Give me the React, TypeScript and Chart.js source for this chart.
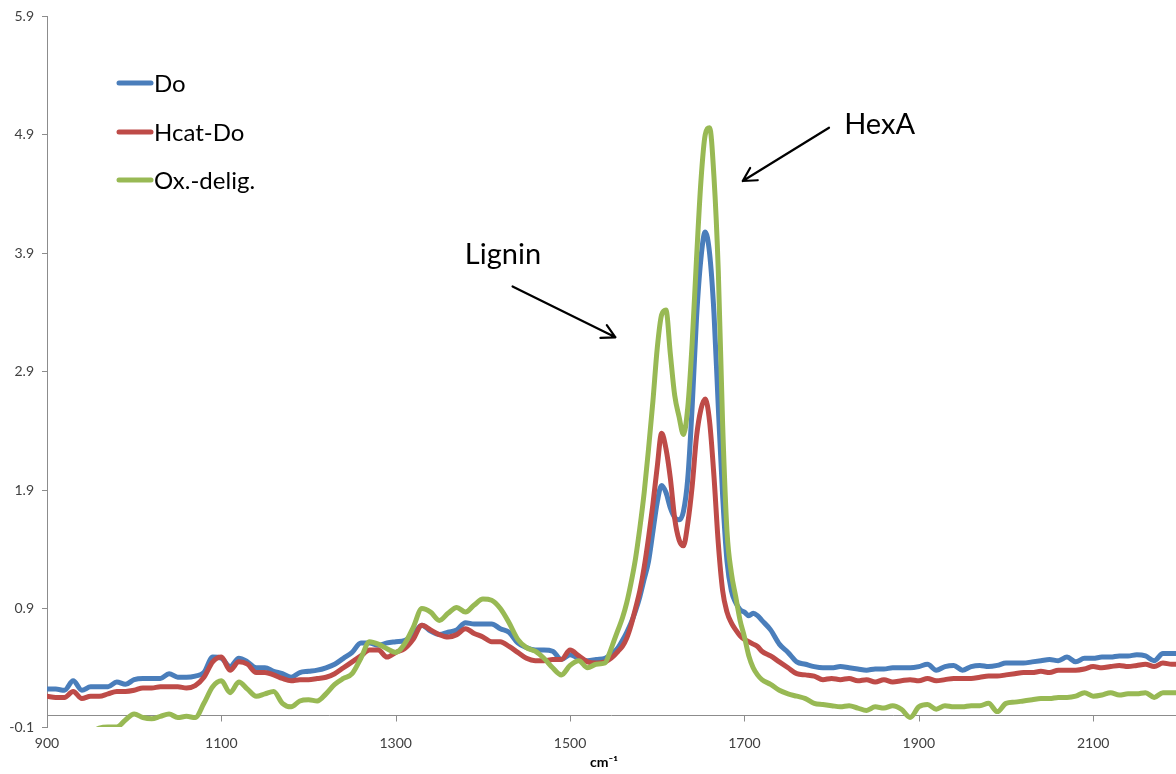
import React, { useEffect, useRef } from "react";
import { Chart, registerables } from "chart.js";

Chart.register(...registerables);

// ---------- data ----------
const wavenumbers = [
  900, 910, 920, 930, 940, 950, 960, 970, 980, 990,
  1000, 1010, 1020, 1030, 1040, 1050, 1060, 1070, 1080, 1090,
  1100, 1110, 1120, 1130, 1140, 1150, 1160, 1170, 1180, 1190,
  1200, 1210, 1220, 1230, 1240, 1250, 1260, 1270, 1280, 1290,
  1300, 1310, 1320, 1330, 1340, 1350, 1360, 1370, 1380, 1390,
  1400, 1410, 1420, 1430, 1440, 1450, 1460, 1470, 1480, 1490,
  1500, 1510, 1520, 1530, 1540,
  1545, 1550, 1555, 1560, 1565, 1570, 1575, 1580, 1585, 1590,
  1595, 1600, 1605, 1610, 1615, 1620, 1625, 1630, 1635, 1640,
  1645, 1650, 1655, 1660, 1665, 1670, 1675, 1680, 1685, 1690,
  1695, 1700, 1705, 1710, 1715, 1720,
  1730, 1740, 1750, 1760, 1770, 1780, 1790, 1800, 1810, 1820,
  1830, 1840, 1850, 1860, 1870, 1880, 1890, 1900, 1910, 1920,
  1930, 1940, 1950, 1960, 1970, 1980, 1990, 2000, 2010, 2020,
  2030, 2040, 2050, 2060, 2070, 2080, 2090, 2100, 2110, 2120,
  2130, 2140, 2150, 2160, 2170, 2180, 2190, 2195,
];

const doValues = [
  0.22, 0.22, 0.21, 0.29, 0.21, 0.24, 0.24, 0.24, 0.28, 0.26,
  0.30, 0.31, 0.31, 0.31, 0.35, 0.32, 0.32, 0.33, 0.36, 0.49,
  0.48, 0.41, 0.48, 0.45, 0.40, 0.40, 0.37, 0.35, 0.32, 0.36,
  0.37, 0.38, 0.40, 0.43, 0.48, 0.53, 0.61, 0.61, 0.59, 0.61,
  0.62, 0.63, 0.68, 0.76, 0.71, 0.68, 0.70, 0.72, 0.78, 0.77,
  0.77, 0.77, 0.73, 0.70, 0.61, 0.57, 0.55, 0.55, 0.54, 0.47,
  0.51, 0.48, 0.46, 0.47, 0.48,
  0.50, 0.53, 0.57, 0.63, 0.70, 0.78, 0.88, 1.00, 1.15, 1.30,
  1.55, 1.80, 1.94, 1.88, 1.75, 1.67, 1.65, 1.72, 2.00, 2.60,
  3.35, 3.85, 4.08, 3.90, 3.40, 2.60, 1.85, 1.30, 1.05, 0.95,
  0.89, 0.87, 0.84, 0.86, 0.84, 0.80,
  0.72, 0.60, 0.53, 0.45, 0.43, 0.41, 0.40, 0.40, 0.41, 0.40,
  0.39, 0.38, 0.39, 0.39, 0.40, 0.40, 0.40, 0.41, 0.43, 0.38,
  0.41, 0.42, 0.38, 0.41, 0.42, 0.41, 0.42, 0.44, 0.44, 0.44,
  0.45, 0.46, 0.47, 0.46, 0.49, 0.45, 0.48, 0.48, 0.49, 0.49,
  0.50, 0.50, 0.51, 0.50, 0.46, 0.52, 0.52, 0.52,
];

const hcatDoValues = [
  0.16, 0.15, 0.15, 0.20, 0.14, 0.16, 0.16, 0.18, 0.20, 0.20,
  0.21, 0.23, 0.23, 0.24, 0.24, 0.24, 0.23, 0.25, 0.32, 0.45,
  0.49, 0.38, 0.45, 0.43, 0.36, 0.36, 0.34, 0.31, 0.29, 0.30,
  0.30, 0.31, 0.32, 0.35, 0.40, 0.45, 0.50, 0.55, 0.55, 0.49,
  0.53, 0.56, 0.64, 0.76, 0.72, 0.68, 0.66, 0.68, 0.73, 0.69,
  0.66, 0.62, 0.62, 0.58, 0.53, 0.48, 0.46, 0.46, 0.47, 0.47,
  0.55, 0.50, 0.45, 0.44, 0.45,
  0.47, 0.50, 0.54, 0.58, 0.65, 0.76, 0.90, 1.05, 1.25, 1.50,
  1.78, 2.10, 2.38, 2.25, 2.00, 1.66, 1.48, 1.43, 1.62, 1.93,
  2.35, 2.58, 2.67, 2.48, 2.02, 1.45, 1.05, 0.87, 0.78, 0.72,
  0.67, 0.64, 0.62, 0.60, 0.58, 0.54,
  0.50, 0.45, 0.40, 0.35, 0.34, 0.33, 0.30, 0.31, 0.30, 0.31,
  0.29, 0.30, 0.28, 0.30, 0.28, 0.29, 0.30, 0.29, 0.31, 0.29,
  0.30, 0.31, 0.31, 0.31, 0.32, 0.33, 0.33, 0.34, 0.35, 0.36,
  0.36, 0.37, 0.36, 0.38, 0.38, 0.38, 0.39, 0.41, 0.40, 0.41,
  0.42, 0.41, 0.42, 0.43, 0.41, 0.44, 0.43, 0.43,
];

const oxDeligValues = [
  -0.30, -0.28, -0.26, -0.24, -0.20, -0.15, -0.11, -0.10, -0.10, -0.04,
  0.01, -0.02, -0.03, -0.01, 0.01, -0.02, -0.01, -0.02, 0.10, 0.24,
  0.29, 0.19, 0.28, 0.22, 0.16, 0.18, 0.20, 0.10, 0.07, 0.12,
  0.13, 0.12, 0.18, 0.26, 0.31, 0.35, 0.48, 0.62, 0.60, 0.56,
  0.53, 0.60, 0.74, 0.90, 0.87, 0.80, 0.86, 0.91, 0.87, 0.93,
  0.98, 0.97, 0.90, 0.78, 0.64, 0.57, 0.54, 0.48, 0.40, 0.34,
  0.42, 0.46, 0.40, 0.43, 0.44,
  0.52, 0.62, 0.72, 0.82, 0.95, 1.12, 1.32, 1.58, 1.88, 2.25,
  2.65, 3.10, 3.38, 3.42, 3.05, 2.70, 2.52, 2.37, 2.60, 3.14,
  3.85, 4.50, 4.90, 4.96, 4.55, 3.75, 2.45, 1.55, 1.20, 1.00,
  0.80, 0.66, 0.50, 0.40, 0.34, 0.30,
  0.26, 0.21, 0.18, 0.16, 0.14, 0.10, 0.09, 0.08, 0.07, 0.08,
  0.06, 0.04, 0.07, 0.06, 0.08, 0.05, -0.02, 0.07, 0.09, 0.05,
  0.08, 0.07, 0.07, 0.08, 0.08, 0.10, 0.03, 0.10, 0.11, 0.12,
  0.13, 0.14, 0.14, 0.15, 0.15, 0.16, 0.19, 0.16, 0.17, 0.19,
  0.17, 0.18, 0.18, 0.19, 0.15, 0.19, 0.19, 0.19,
];

const seriesNames = ["Do", "Hcat-Do", "Ox.-delig."];
const xTickValues = [900, 1100, 1300, 1500, 1700, 1900, 2100];
const yTickValues = [-0.1, 0.9, 1.9, 2.9, 3.9, 4.9, 5.9];
const xAxisTitle = "cm⁻¹";

// annotation labels (positions expressed in data units)
const annotationLabels = ["Lignin", "HexA"];
const annotationTextAt = [
  [1423, 3.89],
  [1855, 4.99],
];
const annotationArrowFrom = [
  [1434, 3.62],
  [1797, 4.96],
];
const annotationArrowTo = [
  [1552, 3.19],
  [1698, 4.51],
];

// ---------- styles ----------
const COLORS = ["#4A7EBB", "#BE4B48", "#98B954"];
const AXIS_COLOR = "#8C8C8C";
const FONT = "Lato, 'Open Sans', sans-serif";

const toPoints = (ys: number[]) => wavenumbers.map((x, i) => ({ x, y: ys[i] }));

const excelPlugin = {
  id: "excelExtras",
  beforeDatasetsDraw(chart: any) {
    const { ctx, chartArea, scales } = chart;
    const y0 = Math.round(scales.y.getPixelForValue(0)) + 0.5;
    ctx.save();
    ctx.strokeStyle = AXIS_COLOR;
    ctx.lineWidth = 1;
    ctx.beginPath();
    ctx.moveTo(chartArea.left, y0);
    ctx.lineTo(chartArea.right, y0);
    xTickValues.forEach((v) => {
      const px = Math.round(scales.x.getPixelForValue(v)) + 0.5;
      ctx.moveTo(px, y0);
      ctx.lineTo(px, y0 + 6);
    });
    ctx.stroke();
    ctx.restore();
  },
  afterDraw(chart: any) {
    const { ctx, scales } = chart;
    ctx.save();
    // legend
    const legendX = 117;
    const legendY = [83, 132, 180];
    seriesNames.forEach((name, i) => {
      ctx.strokeStyle = COLORS[i];
      ctx.lineWidth = 5;
      ctx.lineCap = "round";
      ctx.beginPath();
      ctx.moveTo(legendX + 2, legendY[i]);
      ctx.lineTo(legendX + 34, legendY[i]);
      ctx.stroke();
      ctx.fillStyle = "#000";
      ctx.font = `24px ${FONT}`;
      ctx.textAlign = "left";
      ctx.textBaseline = "middle";
      ctx.fillText(name, legendX + 37, legendY[i] + 1);
    });
    // annotations
    annotationLabels.forEach((label, i) => {
      const tx = scales.x.getPixelForValue(annotationTextAt[i][0]);
      const ty = scales.y.getPixelForValue(annotationTextAt[i][1]);
      ctx.fillStyle = "#000";
      ctx.font = `29px ${FONT}`;
      ctx.textAlign = "center";
      ctx.textBaseline = "middle";
      ctx.fillText(label, tx, ty);
      const x1 = scales.x.getPixelForValue(annotationArrowFrom[i][0]);
      const y1 = scales.y.getPixelForValue(annotationArrowFrom[i][1]);
      const x2 = scales.x.getPixelForValue(annotationArrowTo[i][0]);
      const y2 = scales.y.getPixelForValue(annotationArrowTo[i][1]);
      ctx.strokeStyle = "#000";
      ctx.lineWidth = 2.2;
      ctx.lineCap = "round";
      ctx.lineJoin = "round";
      ctx.beginPath();
      ctx.moveTo(x1, y1);
      ctx.lineTo(x2, y2);
      const ang = Math.atan2(y2 - y1, x2 - x1);
      const head = 15;
      const spread = 0.5;
      ctx.moveTo(x2 - head * Math.cos(ang - spread), y2 - head * Math.sin(ang - spread));
      ctx.lineTo(x2, y2);
      ctx.lineTo(x2 - head * Math.cos(ang + spread), y2 - head * Math.sin(ang + spread));
      ctx.stroke();
    });
    // axis title
    ctx.fillStyle = "#000";
    ctx.font = `bold 14px ${FONT}`;
    ctx.textAlign = "center";
    ctx.textBaseline = "middle";
    ctx.fillText(xAxisTitle, 604, 762);
    ctx.restore();
  },
};

export default function App() {
  const canvasRef = useRef<HTMLCanvasElement | null>(null);

  useEffect(() => {
    if (!canvasRef.current) return;
    const chart = new Chart(canvasRef.current, {
      type: "line",
      data: {
        datasets: [doValues, hcatDoValues, oxDeligValues].map((vals, i) => ({
          label: seriesNames[i],
          data: toPoints(vals),
          borderColor: COLORS[i],
          backgroundColor: COLORS[i],
          borderWidth: 5,
          pointRadius: 0,
          pointHoverRadius: 0,
          cubicInterpolationMode: "monotone" as const,
          borderCapStyle: "round" as const,
          borderJoinStyle: "round" as const,
          fill: false,
          order: 2 - i,
        })),
      },
      options: {
        animation: false,
        responsive: false,
        events: [],
        layout: { padding: { top: 15, right: 0, left: 0, bottom: 0 } },
        plugins: {
          legend: { display: false },
          tooltip: { enabled: false },
          title: { display: false },
        },
        scales: {
          x: {
            type: "linear",
            min: 900,
            max: 2195,
            grid: { display: false, drawTicks: false },
            border: { display: false },
            ticks: {
              padding: 8,
              color: "#404040",
              font: { family: FONT, size: 14 },
              maxRotation: 0,
              callback: (v: any) => String(v),
            },
            afterBuildTicks: (scale: any) => {
              scale.ticks = xTickValues.map((v) => ({ value: v }));
            },
            afterFit: (scale: any) => {
              scale.height = 47;
            },
          },
          y: {
            type: "linear",
            min: -0.1,
            max: 5.9,
            grid: {
              display: true,
              drawOnChartArea: false,
              drawTicks: true,
              tickLength: 5,
              color: AXIS_COLOR,
            },
            border: { display: true, color: AXIS_COLOR, width: 1 },
            ticks: {
              padding: 8,
              color: "#404040",
              font: { family: FONT, size: 14 },
              callback: (v: any) => Number(v).toFixed(1),
            },
            afterBuildTicks: (scale: any) => {
              scale.ticks = yTickValues.map((v) => ({ value: v }));
            },
            afterFit: (scale: any) => {
              scale.width = 47;
            },
          },
        },
      },
      plugins: [excelPlugin],
    });
    return () => chart.destroy();
  }, []);

  return (
    <div style={{ position: "absolute", left: 0, top: 0, width: 1176, height: 774, background: "#fff" }}>
      <canvas ref={canvasRef} width={1176} height={774} style={{ display: "block" }} />
    </div>
  );
}
